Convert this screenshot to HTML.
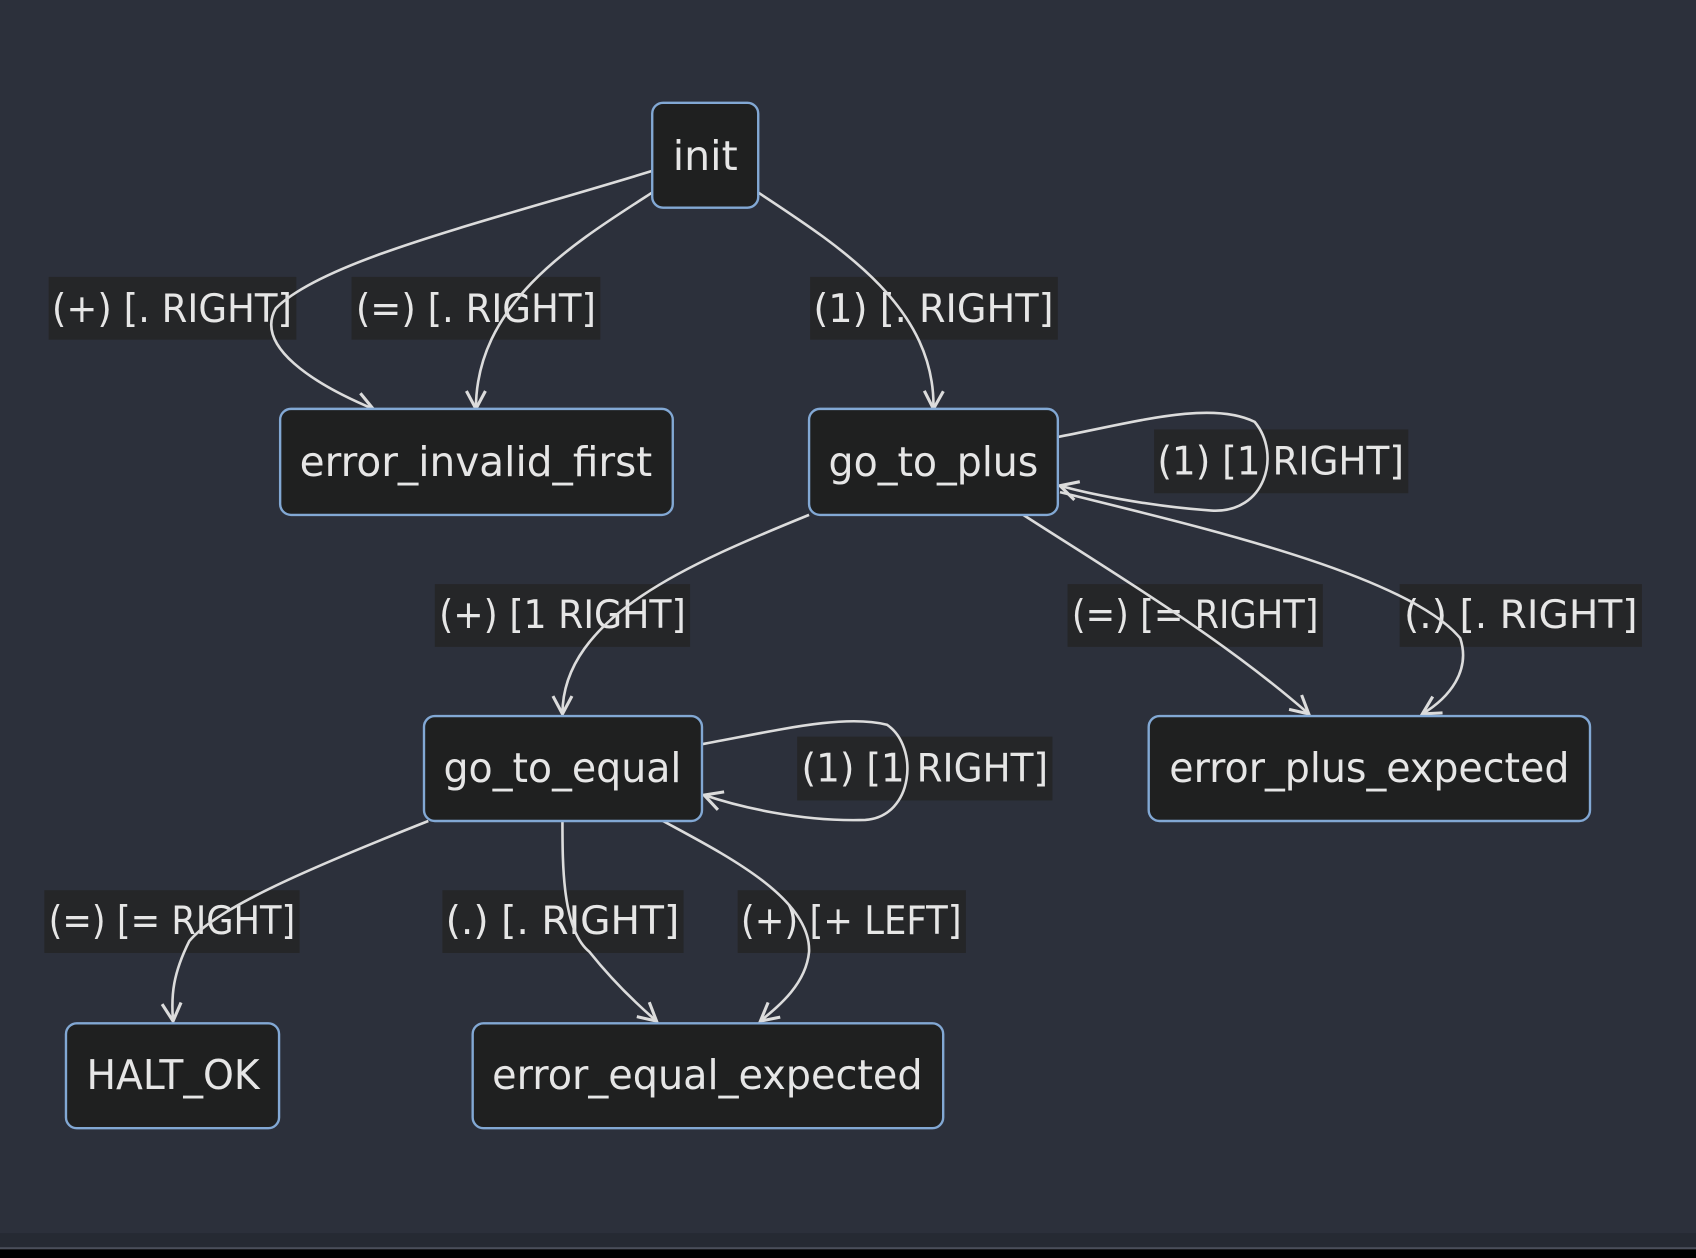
<!DOCTYPE html>
<html><head><style>
html,body{margin:0;padding:0;background:#000;}
svg{display:block}
text{font-family:"DejaVu Sans","Liberation Sans",sans-serif;fill:#e6e6e6;}
</style></head><body>
<svg width="1696" height="1258" viewBox="0 0 1568 1163" preserveAspectRatio="none" xmlns="http://www.w3.org/2000/svg">
<defs>
<marker id="a" viewBox="0 0 20 20" refX="17" refY="10" markerWidth="22" markerHeight="22" markerUnits="userSpaceOnUse" orient="auto">
<path d="M2,2 L17,10 L2,18" fill="none" stroke="#dcdcdc" stroke-width="2.6"/>
</marker>
</defs>
<rect x="0" y="0" width="1568" height="1163" fill="#000"/>
<rect x="0" y="0" width="1568" height="1154" fill="#262a33"/>
<rect x="0" y="0" width="1568" height="1140" fill="#2c303b"/>
<rect x="0" y="1153" width="1568" height="2" fill="#4a4e5a"/>
<g fill="#252628">
<rect x="45" y="256" width="229" height="58"/>
<rect x="325" y="256" width="230" height="58"/>
<rect x="749" y="256" width="229" height="58"/>
<rect x="1067" y="397" width="235" height="59"/>
<rect x="402" y="540" width="236" height="58"/>
<rect x="987" y="540" width="236" height="58"/>
<rect x="1294" y="540" width="224" height="58"/>
<rect x="737" y="681" width="236" height="59"/>
<rect x="41" y="823" width="236" height="58"/>
<rect x="409" y="823" width="223" height="58"/>
<rect x="682" y="823" width="211" height="58"/>
</g>
<g font-size="36" text-anchor="middle" dominant-baseline="central" lengthAdjust="spacingAndGlyphs">
<text x="159" y="286" textLength="222" lengthAdjust="spacingAndGlyphs">(+) [. RIGHT]</text>
<text x="440" y="286" textLength="222" lengthAdjust="spacingAndGlyphs">(=) [. RIGHT]</text>
<text x="863" y="286" textLength="222" lengthAdjust="spacingAndGlyphs">(1) [. RIGHT]</text>
<text x="1184" y="427" textLength="228" lengthAdjust="spacingAndGlyphs">(1) [1 RIGHT]</text>
<text x="520" y="569" textLength="228" lengthAdjust="spacingAndGlyphs">(+) [1 RIGHT]</text>
<text x="1105" y="569" textLength="228" lengthAdjust="spacingAndGlyphs">(=) [= RIGHT]</text>
<text x="1406" y="569" textLength="216" lengthAdjust="spacingAndGlyphs">(.) [. RIGHT]</text>
<text x="855" y="711" textLength="228" lengthAdjust="spacingAndGlyphs">(1) [1 RIGHT]</text>
<text x="159" y="852" textLength="228" lengthAdjust="spacingAndGlyphs">(=) [= RIGHT]</text>
<text x="520" y="852" textLength="216" lengthAdjust="spacingAndGlyphs">(.) [. RIGHT]</text>
<text x="787" y="852" textLength="204" lengthAdjust="spacingAndGlyphs">(+) [+ LEFT]</text>
</g>
<g fill="none" stroke="#dcdcdc" stroke-width="2.4" marker-end="url(#a)">
<path d="M603,158 C450,205 300,240 255,285 C235,320 290,355 345,378"/>
<path d="M603,178 C530,225 440,280 440,378"/>
<path d="M701,178 C780,230 865,285 863,378"/>
<path d="M978,404 C1050,390 1120,370 1160,390 C1185,420 1170,475 1120,472 C1060,468 1000,455 980,449"/>
<path d="M748,476 C640,520 520,570 520,660"/>
<path d="M946,476 C1030,530 1130,590 1210,660"/>
<path d="M980,455 C1100,485 1300,530 1350,590 C1360,620 1340,645 1315,660"/>
<path d="M649,688 C720,675 780,660 820,670 C850,690 845,755 800,758 C740,760 680,745 651,735"/>
<path d="M396,759 C280,805 200,840 175,870 C160,900 158,920 160,944"/>
<path d="M520,759 C520,800 520,860 545,880 C565,905 585,925 607,944"/>
<path d="M613,759 C670,790 750,830 748,880 C745,910 720,930 703,944"/>
</g>
<g fill="#1f2020" stroke="#82a8d4" stroke-width="2.2">
<rect x="603" y="95" width="98" height="97" rx="10"/>
<rect x="259" y="378" width="363" height="98" rx="10"/>
<rect x="748" y="378" width="230" height="98" rx="10"/>
<rect x="392" y="662" width="257" height="97" rx="10"/>
<rect x="1062" y="662" width="408" height="97" rx="10"/>
<rect x="61" y="946" width="197" height="97" rx="10"/>
<rect x="437" y="946" width="435" height="97" rx="10"/>
</g>
<g font-size="38" text-anchor="middle" dominant-baseline="central">
<text x="652" y="144" textLength="60" lengthAdjust="spacingAndGlyphs">init</text>
<text x="440" y="427" textLength="326" lengthAdjust="spacingAndGlyphs">error_invalid_first</text>
<text x="863" y="427" textLength="194" lengthAdjust="spacingAndGlyphs">go_to_plus</text>
<text x="520" y="710" textLength="220" lengthAdjust="spacingAndGlyphs">go_to_equal</text>
<text x="1266" y="710" textLength="370" lengthAdjust="spacingAndGlyphs">error_plus_expected</text>
<text x="160" y="994" textLength="160" lengthAdjust="spacingAndGlyphs">HALT_OK</text>
<text x="654" y="994" textLength="398" lengthAdjust="spacingAndGlyphs">error_equal_expected</text>
</g>
</svg>
</body></html>
